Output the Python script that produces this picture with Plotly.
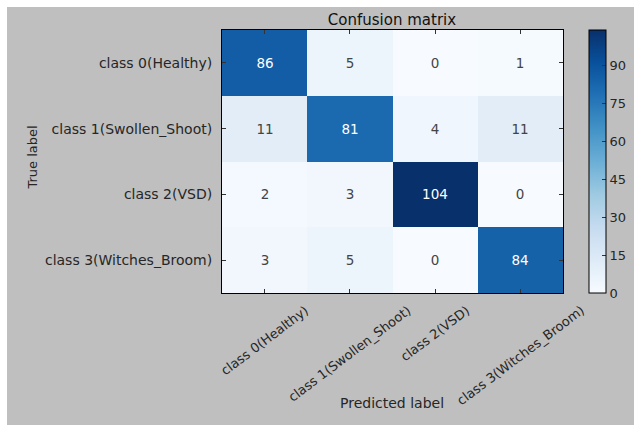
import plotly.graph_objects as go

classes = ["class 0(Healthy)", "class 1(Swollen_Shoot)", "class 2(VSD)", "class 3(Witches_Broom)"]
cm_values = [
    [86, 5, 0, 1],
    [11, 81, 4, 11],
    [2, 3, 104, 0],
    [3, 5, 0, 84],
]
cbar_ticks = [0, 15, 30, 45, 60, 75, 90]

blues = ["#f7fbff", "#deebf7", "#c6dbef", "#9ecae1", "#6baed6",
         "#4292c6", "#2171b5", "#08519c", "#08306b"]
colorscale = [[i / (len(blues) - 1), c] for i, c in enumerate(blues)]

W, H = 634, 425
L, R, T, B = 222, 71, 30, 132
pw, ph = W - L - R, H - T - B
FONT = "DejaVu Sans"
TXT = "#262626"
n = len(classes)

def px_x(p):
    return (p - L) / pw

def px_y(p):
    return (H - B - p) / ph

fig = go.Figure(go.Heatmap(
    z=cm_values, x=classes, y=classes,
    colorscale=colorscale, zmin=0, zmax=104,
    texttemplate="%{z}", textfont=dict(size=13.5, family=FONT),
    hoverinfo="skip",
    colorbar=dict(
        x=px_x(589), xanchor="left", xref="paper",
        y=0.5, yanchor="middle", len=1, lenmode="fraction", ypad=0, xpad=0,
        thickness=17, thicknessmode="pixels",
        outlinecolor="black", outlinewidth=1,
        tickvals=cbar_ticks, ticks="inside", ticklen=4, tickcolor="#333",
        tickfont=dict(size=13, family=FONT, color=TXT),
    ),
))

fig.add_shape(type="rect", xref="paper", yref="paper",
              x0=px_x(7), x1=px_x(640), y0=px_y(430), y1=px_y(7),
              fillcolor="#bfbfbf", line=dict(width=0), layer="below")

fig.update_layout(
    width=W, height=H,
    margin=dict(l=L, r=R, t=T, b=B, autoexpand=False),
    paper_bgcolor="white", plot_bgcolor="white",
    font=dict(family=FONT, color=TXT),
    title=dict(text="Confusion matrix", x=px_x(392), xref="paper", xanchor="center",
               y=1 - 20 / H, yanchor="middle", font=dict(size=15, color="#111")),
    xaxis=dict(range=[-0.5, n - 0.5], autorange=False, showticklabels=False,
               showgrid=False, zeroline=False, showline=True,
               linecolor="black", linewidth=1, mirror="ticks", ticks="inside", ticklen=4,
               tickcolor="#333", automargin=False),
    yaxis=dict(range=[n - 0.5, -0.5], autorange=False, tickfont=dict(size=14, color=TXT),
               showgrid=False, zeroline=False, showline=True, linecolor="black", linewidth=1,
               mirror="ticks", ticks="inside", ticklen=4, tickcolor="#333",
               ticklabelstandoff=6, automargin=False),
)

for c in classes:
    fig.add_annotation(text=c, x=c, xref="x", yref="paper", y=px_y(300),
                       xanchor="center", yanchor="top", textangle=-37, showarrow=False,
                       font=dict(size=13, color=TXT))

fig.add_annotation(text="Predicted label", xref="paper", yref="paper",
                   x=px_x(392), y=px_y(413), showarrow=False,
                   font=dict(size=14, color=TXT))
fig.add_annotation(text="True label", xref="paper", yref="paper",
                   x=px_x(22), y=px_y(158), showarrow=False, textangle=-90,
                   font=dict(size=13, color=TXT))

fig.write_html("out.html", config={"displayModeBar": False},
               post_script="document.body.style.margin='0';")
